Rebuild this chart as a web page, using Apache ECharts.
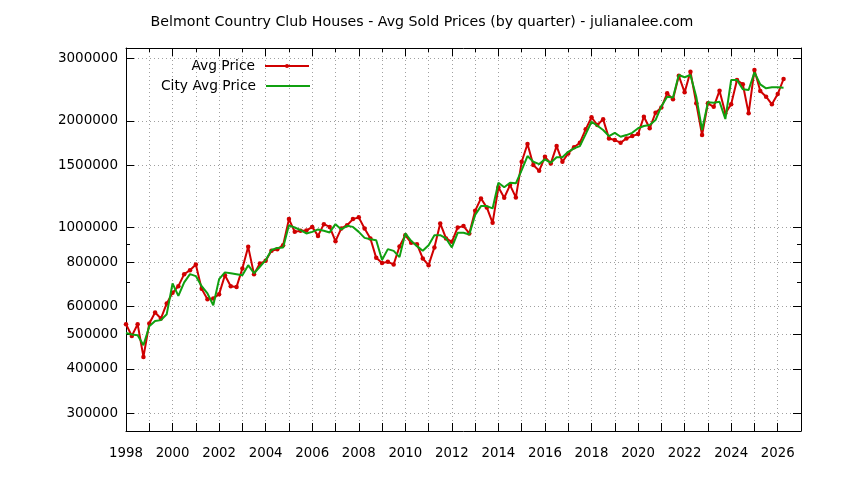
<!DOCTYPE html>
<html>
<head>
<meta charset="utf-8">
<script src="https://cdn.jsdelivr.net/npm/echarts@6/dist/echarts.min.js"></script>
<style>html,body{margin:0;padding:0;background:#fff}#chart{width:844px;height:480px}</style>
</head>
<body>
<div id="chart"></div>
<script>
const titleText = 'Belmont Country Club Houses - Avg Sold Prices (by quarter) - julianalee.com';
const seriesNames = ['Avg Price', 'City Avg Price'];
const years = [1998,1999,2000,2001,2002,2003,2004,2005,2006,2007,2008,2009,2010,2011,2012,2013,2014,2015,2016,2017,2018,2019,2020,2021,2022,2023,2024,2025,2026];
const quarterOffsets = [0, 0.25, 0.5, 0.75];

const avgPrice = [
  534600, 495500, 534600, 432400,
  537000, 576800, 554600, 611500,
  655100, 684200, 739600, 758600,
  787000, 672300, 628700, 631600,
  649600, 734500, 684200, 681000,
  767400, 883000, 739600, 792000,
  806400, 860800, 869000, 892500,
  1057000, 973000, 979900, 981000,
  1005000, 948000, 1023000, 1005000,
  916200, 995000, 1016000, 1057000,
  1069000, 995000, 932300, 822000,
  795000, 801000, 788000, 885000,
  952600, 906300, 898600, 818800,
  784000, 879600, 1028000, 932300,
  912400, 1001000, 1010000, 963000,
  1115000, 1209000, 1140000, 1032000,
  1299000, 1214000, 1318000, 1217000,
  1533000, 1720000, 1501000, 1446000,
  1583000, 1517000, 1697000, 1533000,
  1619000, 1684000, 1735000, 1892000,
  2046000, 1946000, 2019000, 1784000,
  1765000, 1735000, 1784000, 1811000,
  1835000, 2054000, 1905000, 2107000,
  2180000, 2390000, 2299000, 2679000,
  2405000, 2750000, 2240000, 1823000,
  2240000, 2190000, 2431000, 2099000,
  2226000, 2606000, 2534000, 2099000,
  2781000, 2426000, 2338000, 2226000,
  2379000, 2623000
];

const cityAvgPrice = [
  505200, 500000, 497700, 466500,
  527800, 546200, 548900, 570500,
  696300, 642700, 700900, 739600,
  730300, 684200, 652600, 604700,
  716100, 748200, 744000, 739600,
  734500, 783800, 744000, 775800,
  809800, 864900, 877000, 879000,
  1015000, 1001000, 984000, 963000,
  973000, 988600, 979900, 969400,
  1023000, 988600, 1012000, 1005000,
  973000, 936000, 928000, 922000,
  811000, 870000, 860000, 826000,
  963000, 918300, 887000, 860400,
  892500, 952600, 952600, 932300,
  879600, 967000, 967000, 957000,
  1085000, 1150000, 1150000, 1133000,
  1338000, 1299000, 1338000, 1333000,
  1453000, 1591000, 1533000, 1510000,
  1557000, 1523000, 1578000, 1578000,
  1636000, 1673000, 1697000, 1835000,
  1988000, 1937000, 1884000, 1811000,
  1850000, 1803000, 1823000, 1850000,
  1905000, 1933000, 1946000, 2010000,
  2195000, 2338000, 2328000, 2692000,
  2652000, 2692000, 2338000, 1884000,
  2254000, 2250000, 2263000, 2023000,
  2606000, 2606000, 2453000, 2442000,
  2739000, 2534000, 2469000, 2485000,
  2485000, 2480000
];

const yTickLabels = [300000, 400000, 500000, 600000, 800000, 1000000, 1500000, 2000000, 3000000];
const yMinorTicks = [700000, 900000];
const xLabelYears = [1998,2000,2002,2004,2006,2008,2010,2012,2014,2016,2018,2020,2022,2024,2026];
const xMinorYears = [1999,2001,2003,2005,2007,2009,2011,2013,2015,2017,2019,2021,2023,2025];
const xMin = 1998, xMax = 2027;
const yMin = 267400, yMax = 3207000;

// quarter times built from the year / quarter categories
const quarterTimes = [];
years.forEach(y => quarterOffsets.forEach(q => quarterTimes.push(y + q)));

const avgData = avgPrice.map((v, i) => [quarterTimes[i], v]);
const cityData = cityAvgPrice.map((v, i) => [quarterTimes[i], v]);

const FONT = 'DejaVu Sans';
const gridLine = { show: true, lineStyle: { color: '#a0a0a0', width: 1, type: [1, 3] } };
const black = { color: '#000', width: 1 };
const RED = '#d00000', GREEN = '#10a010';

const chart = echarts.init(document.getElementById('chart'), null, { renderer: 'canvas' });
chart.setOption({
  animation: false,
  backgroundColor: '#fff',
  textStyle: { fontFamily: FONT },
  title: {
    text: titleText, left: 'center', top: 10,
    textStyle: { fontFamily: FONT, fontSize: 14.2, fontWeight: 'normal', color: '#000' }
  },
  legend: [
    {
      data: [seriesNames[0]], right: 534, top: 59, orient: 'vertical', align: 'right',
      itemWidth: 44, itemHeight: 5, padding: 0, selectedMode: false,
      textStyle: { fontFamily: FONT, fontSize: 13.8, color: '#000', padding: [0, 5, 0, 0] }
    },
    {
      data: [seriesNames[1]], right: 534, top: 79, orient: 'vertical', align: 'right',
      icon: 'rect', itemWidth: 44, itemHeight: 2, padding: 0, selectedMode: false,
      textStyle: { fontFamily: FONT, fontSize: 13.8, color: '#000', padding: [0, 5, 0, 0] }
    }
  ],
  grid: { left: 126, right: 43, top: 48, bottom: 49, containLabel: false },
  xAxis: [
    {
      type: 'value', position: 'bottom', min: xMin, max: xMax, interval: 1,
      axisLine: { show: true, lineStyle: black },
      axisTick: { show: true, inside: true, length: 8, lineStyle: black },
      axisLabel: {
        show: true, margin: 16, fontFamily: FONT, fontSize: 13.3, color: '#000',
        formatter: v => (xLabelYears.indexOf(Math.round(v)) >= 0 && Math.abs(v - Math.round(v)) < 1e-6) ? String(Math.round(v)) : ''
      },
      splitLine: gridLine
    },
    {
      type: 'value', position: 'top', min: xMin, max: xMax,
      axisLine: { show: true, lineStyle: black },
      axisTick: { show: true, inside: true, length: 8, customValues: xLabelYears, lineStyle: black },
      axisLabel: { show: false },
      splitLine: { show: false }
    },
    {
      type: 'value', position: 'top', min: xMin, max: xMax,
      axisLine: { show: false },
      axisTick: { show: true, inside: true, length: 4, customValues: xMinorYears, lineStyle: black },
      axisLabel: { show: false },
      splitLine: { show: false }
    }
  ],
  yAxis: [
    {
      type: 'log', logBase: 10, position: 'left', min: yMin, max: yMax,
      axisLine: { show: true, lineStyle: black },
      axisTick: { show: true, inside: true, length: 8, customValues: yTickLabels, lineStyle: black },
      axisLabel: {
        show: true, customValues: yTickLabels, margin: 8, fontFamily: FONT, fontSize: 13.5, color: '#000',
        formatter: v => String(Math.round(v))
      },
      splitLine: gridLine,
      minorTick: { show: false }
    },
    {
      type: 'log', logBase: 10, position: 'left', min: yMin, max: yMax,
      axisLine: { show: false },
      axisTick: { show: true, inside: true, length: 4, customValues: yMinorTicks, lineStyle: black },
      axisLabel: { show: false },
      splitLine: { show: false }
    },
    {
      type: 'log', logBase: 10, position: 'right', min: yMin, max: yMax,
      axisLine: { show: true, lineStyle: black },
      axisTick: { show: true, inside: true, length: 8, customValues: yTickLabels, lineStyle: black },
      axisLabel: { show: false },
      splitLine: { show: false }
    },
    {
      type: 'log', logBase: 10, position: 'right', min: yMin, max: yMax,
      axisLine: { show: false },
      axisTick: { show: true, inside: true, length: 4, customValues: yMinorTicks, lineStyle: black },
      axisLabel: { show: false },
      splitLine: { show: false }
    }
  ],
  series: [
    {
      name: seriesNames[0], type: 'line', xAxisIndex: 0, yAxisIndex: 0,
      data: avgData, showSymbol: true, symbol: 'circle', symbolSize: 4.5,
      lineStyle: { color: RED, width: 2 },
      itemStyle: { color: RED },
      emphasis: { disabled: true }, z: 2
    },
    {
      name: seriesNames[1], type: 'line', xAxisIndex: 0, yAxisIndex: 0,
      data: cityData, showSymbol: false, symbol: 'none',
      lineStyle: { color: GREEN, width: 2 },
      itemStyle: { color: GREEN },
      emphasis: { disabled: true }, z: 3
    }
  ]
});
</script>
</body>
</html>
